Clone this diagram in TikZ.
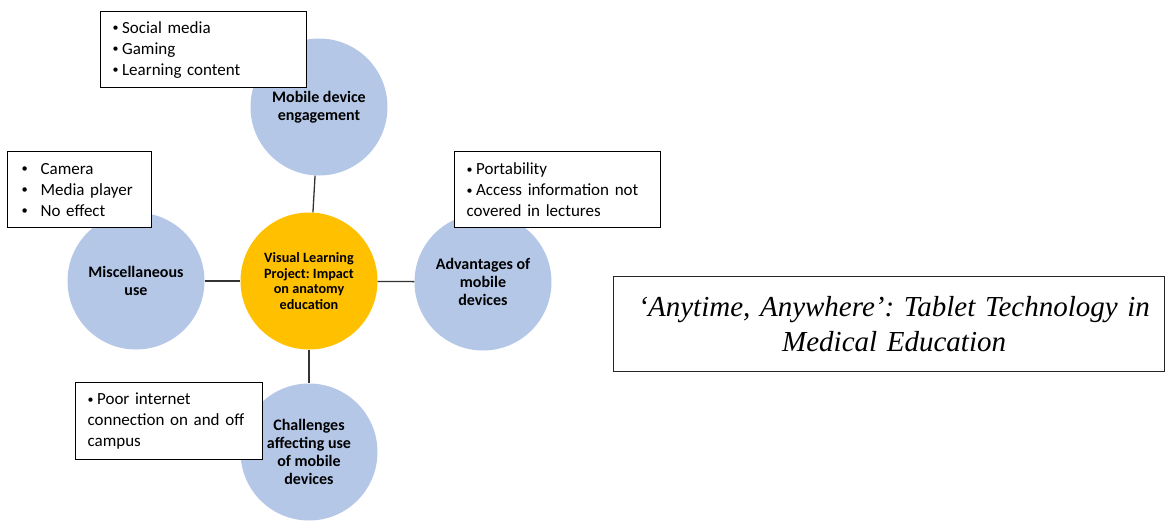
\documentclass[tikz,border=0pt]{standalone}
\usepackage{fontspec}
\setmainfont{Carlito}
\newfontfamily\titlefont{Liberation Serif}
\definecolor{cblue}{HTML}{B4C7E7}
\definecolor{corange}{HTML}{FFC000}
\newcommand\bul{\makebox[9.5pt][l]{\raisebox{1.2pt}{\fontsize{12}{12}\selectfont•}}}
\newcommand\tabbul{\makebox[19pt][l]{\raisebox{1.2pt}{\fontsize{12.5}{12}\selectfont•}}}
\frenchspacing
\begin{document}
\begin{tikzpicture}[x=1pt,y=-1pt,
 topic/.style={circle, fill=cblue, minimum size=137pt, inner sep=0pt, align=center, font=\fontsize{16}{18}\selectfont\bfseries},
 hub/.style={topic, fill=corange, font=\fontsize{14.2}{15.6}\selectfont\bfseries},
 notebox/.style={draw=black, line width=1.2pt, fill=white, anchor=north west, align=left, inner xsep=12pt, inner ysep=0pt, font=\fontsize{17}{21}\selectfont},
 titlebox/.style={draw=black!85, line width=1.3pt, fill=white, anchor=north west, align=center, inner xsep=0pt, inner ysep=0pt, font=\titlefont\itshape\fontsize{29}{35}\selectfont},
 link/.style={draw=black!80, line width=1.3pt}]
\useasboundingbox (0,0) rectangle (1168,520);
% circles
\node[topic] (mob) at (319,107) {Mobile device\\engagement};
\node[topic] (misc) at (136,281) {Miscellaneous\\use};
\node[hub] (hub) at (309,281) {Visual Learning\\Project: Impact\\on anatomy\\education};
\node[topic] (adv) at (483,282) {Advantages of\\mobile\\devices};
\node[topic] (chal) at (309,452) {Challenges\\affecting use\\of mobile\\devices};
% connectors
\draw[link] (mob) -- (hub);
\draw[link] (misc) -- (hub);
\draw[link] (hub) -- (adv);
\draw[link] (hub) -- (chal);
% note boxes
\node[notebox, text width=182pt, minimum width=206pt, minimum height=76pt] (n1) at (100,11)
 {\bul Social media\\\bul Gaming\\\bul Learning content};
\node[notebox, inner xsep=14pt, text width=116pt, minimum width=144pt, minimum height=76pt] (n2) at (7,151)
 {\tabbul Camera\\\tabbul Media player\\\tabbul No effect};
\node[notebox, text width=182pt, minimum width=206pt, minimum height=76pt] (n3) at (454,151)
 {\bul Portability\\\bul Access information not\\covered in lectures};
\node[notebox, text width=163pt, minimum width=187pt, minimum height=77pt] (n4) at (75,382)
 {\bul Poor internet\\connection on and off\\campus};
% title
\node[titlebox, text width=551pt, minimum width=551pt, minimum height=95pt] (title) at (613,276)
 {\hspace*{10pt}‘Anytime, Anywhere’: Tablet Technology in\\\hspace*{10pt}Medical Education};
\end{tikzpicture}
\end{document}
